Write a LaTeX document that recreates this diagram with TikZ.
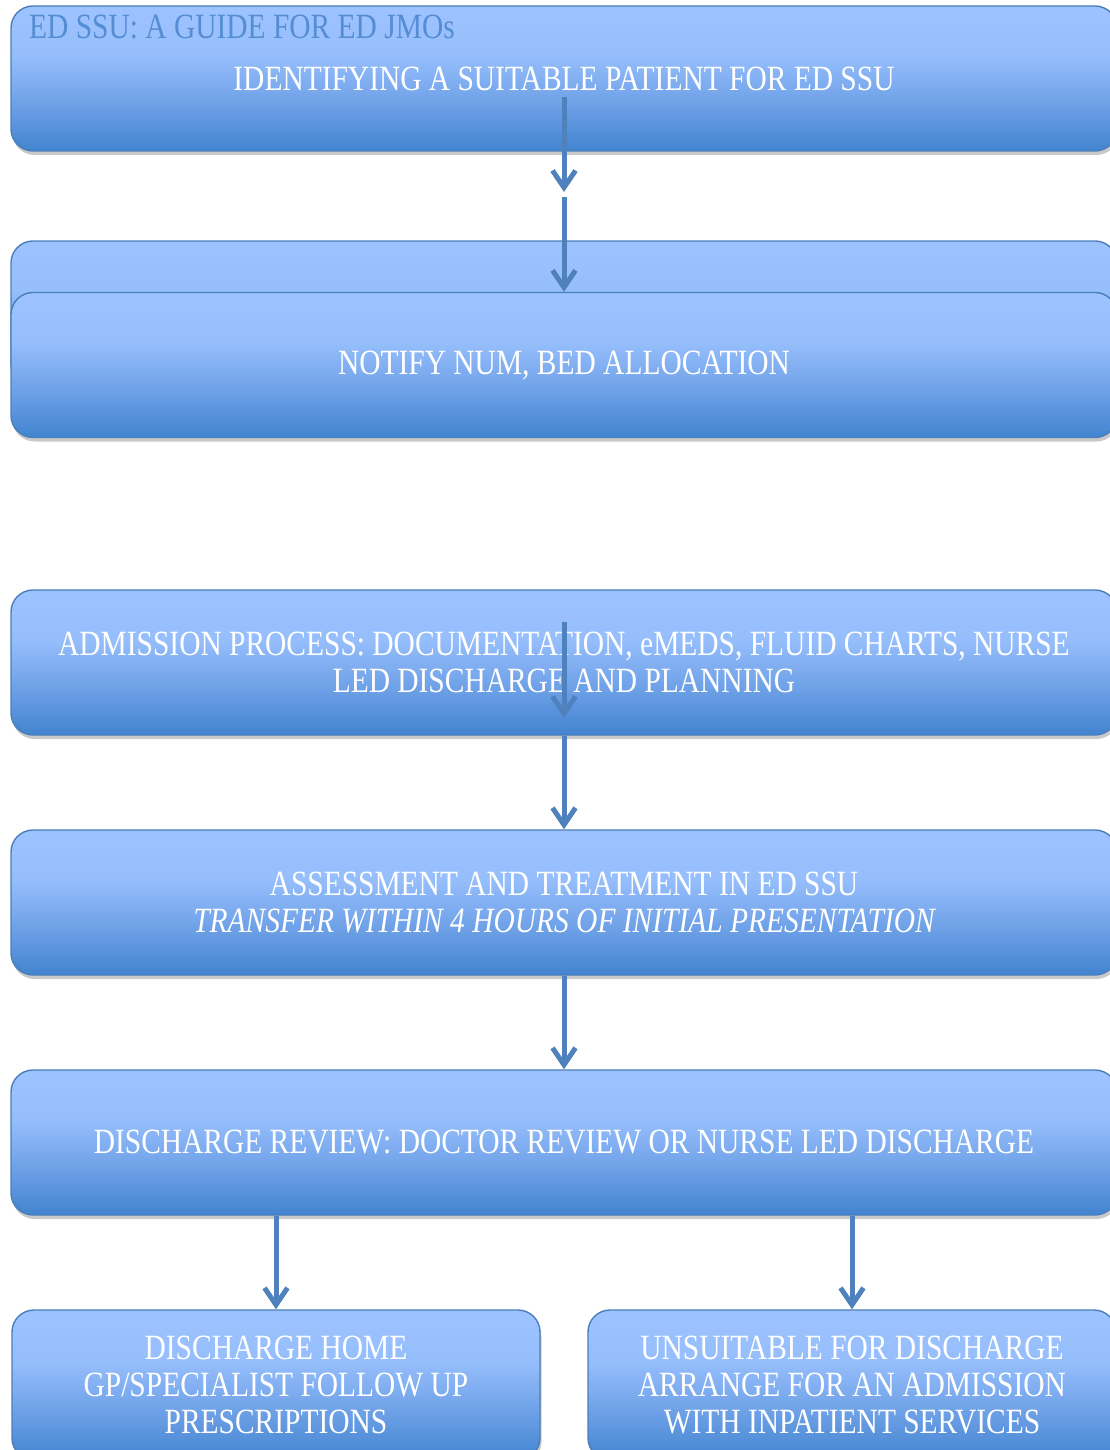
\documentclass[tikz,border=0pt]{standalone}
\usepackage{fontspec}
\setmainfont{Liberation Serif}[FakeStretch=0.83]
\usetikzlibrary{arrows.meta,shadows}
\definecolor{gtop}{RGB}{157,195,255}
\definecolor{gup}{RGB}{150,190,252}
\definecolor{gmid}{RGB}{112,162,232}
\definecolor{gbot}{RGB}{66,132,208}
\definecolor{boxborder}{RGB}{74,126,187}
\definecolor{arrowblue}{RGB}{79,129,189}
\definecolor{titleblue}{RGB}{84,141,212}
\pgfdeclareverticalshading{boxgrad}{100bp}{color(0bp)=(gbot); color(25bp)=(gbot); color(42bp)=(gmid); color(58bp)=(gup); color(75bp)=(gtop); color(100bp)=(gtop)}
\tikzset{
  flowbox/.style={draw=boxborder, line width=1.4pt, rounded corners=22pt,
    shading=boxgrad, text=white, align=center, inner sep=0pt,
    font=\fontsize{35.5}{37}\selectfont,
    drop shadow={shadow xshift=1.5pt, shadow yshift=-4pt, opacity=.35, fill=black!60}},
  widebox/.style={flowbox, minimum width=1106pt, minimum height=145pt},
  halfbox/.style={flowbox, minimum width=528pt, minimum height=150pt},
  flowarrow/.style={draw=arrowblue, line width=5pt, -{Straight Barb[length=17pt,width=23pt]}}
}
\begin{document}
\begin{tikzpicture}[x=1pt,y=-1pt]
\useasboundingbox[fill=white] (0,0) rectangle (1110,1450);
% boxes
\node[widebox] (box1) at (564,78.5) {IDENTIFYING A SUITABLE PATIENT FOR ED SSU};
\node[anchor=base west, inner sep=0pt, text=titleblue, font=\fontsize{35.5}{37}\selectfont] (title) at (29,39) {ED SSU: A GUIDE FOR ED JMOs};
\node[widebox] (box2) at (564,313.5) {};
\node[widebox] (box3) at (564,365) {NOTIFY NUM, BED ALLOCATION};
\node[widebox] (box4) at (564,662.5) {ADMISSION PROCESS: DOCUMENTATION, eMEDS, FLUID CHARTS, NURSE\\LED DISCHARGE AND PLANNING};
\node[widebox] (box5) at (564,902.5) {ASSESSMENT AND TREATMENT IN ED SSU\\\itshape TRANSFER WITHIN 4 HOURS OF INITIAL PRESENTATION};
\node[widebox] (box6) at (564,1142.5) {DISCHARGE REVIEW: DOCTOR REVIEW OR NURSE LED DISCHARGE};
\node[halfbox] (box7) at (276,1385) {DISCHARGE HOME\\GP/SPECIALIST FOLLOW UP\\PRESCRIPTIONS};
\node[halfbox] (box8) at (852,1385) {UNSUITABLE FOR DISCHARGE\\ARRANGE FOR AN ADMISSION\\WITH INPATIENT SERVICES};
% arrow ends
\coordinate (a1s) at (564,97);
\coordinate (a1e) at (564,192);
\coordinate (a2s) at (564,197);
\coordinate (a3s) at (564,622);
\coordinate (a3e) at (564,718);
% arrows
\draw[flowarrow] (a1s) -- (a1e);
\draw[flowarrow] (a2s) -- (box3.north);
\draw[flowarrow] (a3s) -- (a3e);
\draw[flowarrow] (box4.south) -- (box5.north);
\draw[flowarrow] (box5.south) -- (box6.north);
\draw[flowarrow] (box6.south -| box7.north) -- (box7.north);
\draw[flowarrow] (box6.south -| box8.north) -- (box8.north);
\end{tikzpicture}
\end{document}
